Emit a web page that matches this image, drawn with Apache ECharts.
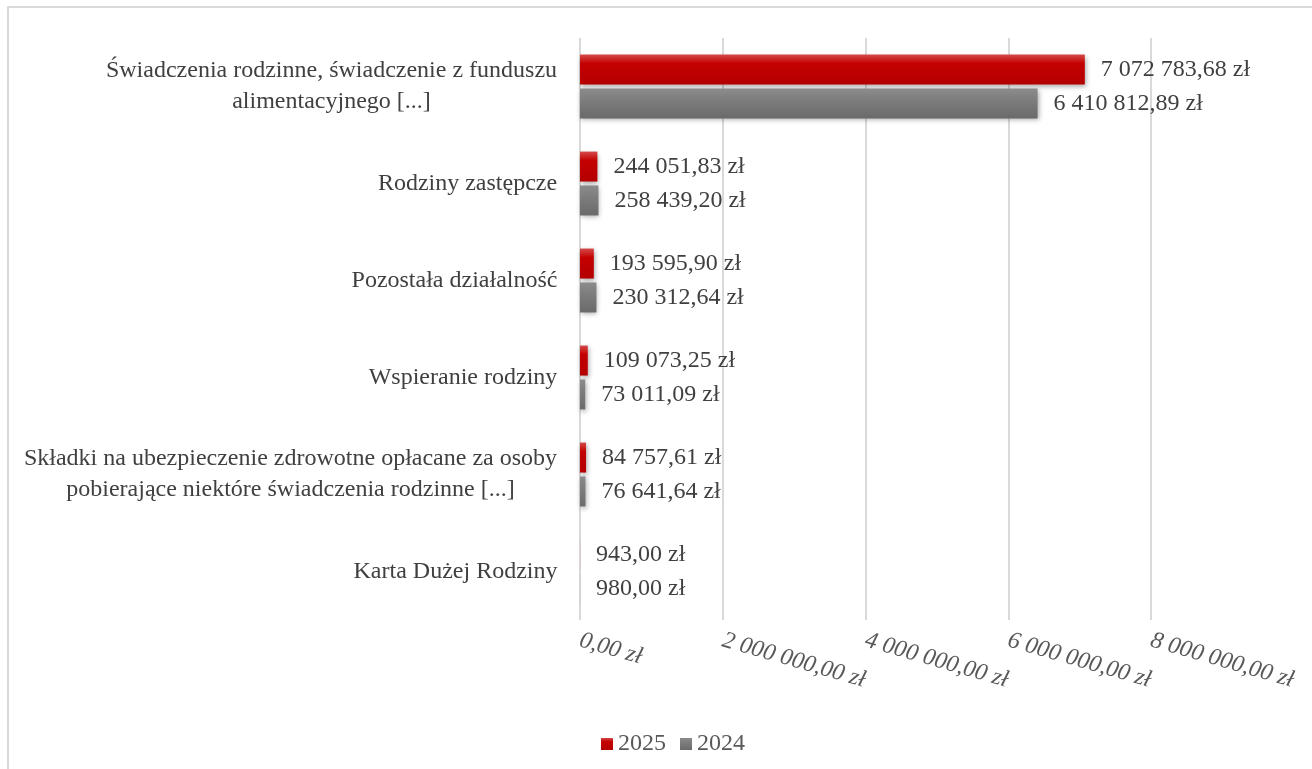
<!DOCTYPE html>
<html>
<head>
<meta charset="utf-8">
<script src="https://cdn.jsdelivr.net/npm/echarts@6/dist/echarts.min.js"></script>
<style>
  html, body { margin: 0; padding: 0; background: #fff; }
  #main { width: 1312px; height: 769px; }
</style>
</head>
<body>
<div id="main"></div>
<script>
// dane
var categories = [
  'Świadczenia rodzinne, świadczenie z funduszu\nalimentacyjnego [...]',
  'Rodziny zastępcze',
  'Pozostała działalność',
  'Wspieranie rodziny',
  'Składki na ubezpieczenie zdrowotne opłacane za osoby\npobierające niektóre świadczenia rodzinne [...]',
  'Karta Dużej Rodziny'
];
var values2025 = [7072783.68, 244051.83, 193595.90, 109073.25, 84757.61, 943.00];
var values2024 = [6410812.89, 258439.20, 230312.64, 73011.09, 76641.64, 980.00];
var xTicks = [0, 2000000, 4000000, 6000000, 8000000];

var FONT = '"Liberation Serif", "Times New Roman", serif';
var FS = 24;

// format polski: 7 072 783,68 zł
function plMoney(v) {
  var parts = Number(v).toFixed(2).split('.');
  var intPart = parts[0].replace(/\B(?=(\d{3})+(?!\d))/g, ' ');
  return intPart + ',' + parts[1] + ' zł';
}

// wiersze etykiet kategorii wycentrowane wzgledem siebie
var ctx = document.createElement('canvas').getContext('2d');
ctx.font = FS + 'px ' + FONT;
var rich = {};
categories.forEach(function (c, i) {
  var w = 0;
  c.split('\n').forEach(function (l) { w = Math.max(w, ctx.measureText(l).width); });
  rich['c' + i] = { width: Math.ceil(w) + 1, align: 'center', fontSize: FS, fontFamily: FONT, color: '#404040', lineHeight: 31 };
});

function grad(top, mid, bottom) {
  return new echarts.graphic.LinearGradient(0, 0, 0, 1, [
    { offset: 0, color: top },
    { offset: 0.3, color: mid },
    { offset: 1, color: bottom }
  ]);
}

var chart = echarts.init(document.getElementById('main'));
var option = {
  animation: false,
  backgroundColor: '#fff',
  textStyle: { fontFamily: FONT },
  graphic: [{
    type: 'rect',
    shape: { x: 8, y: 7, width: 1400, height: 900 },
    style: { fill: 'none', stroke: '#d9d9d9', lineWidth: 2 },
    silent: true
  }],
  legend: {
    left: 596,
    top: 727,
    itemWidth: 12,
    itemHeight: 12,
    itemGap: 14,
    icon: 'rect',
    textStyle: { fontSize: FS, fontFamily: FONT, color: '#595959' },
    data: ['2025', '2024']
  },
  grid: { left: 580, right: 161, top: 38, bottom: 149 },
  xAxis: {
    type: 'value',
    min: 0,
    max: 8000000,
    interval: 2000000,
    axisLine: { show: false },
    axisTick: { show: false },
    splitLine: { lineStyle: { color: '#d9d9d9', width: 2 } },
    axisLabel: {
      rotate: -16,
      margin: 20,
      fontSize: FS,
      fontStyle: 'italic',
      fontFamily: FONT,
      color: '#595959',
      formatter: function (v) { return xTicks.indexOf(v) >= 0 ? plMoney(v) : ''; }
    }
  },
  yAxis: {
    type: 'category',
    inverse: true,
    data: categories,
    axisLine: { show: false },
    axisTick: { show: false },
    axisLabel: {
      margin: 22,
      rich: rich,
      formatter: function (value, idx) {
        return value.split('\n').map(function (l) { return '{c' + idx + '|' + l + '}'; }).join('\n');
      }
    }
  },
  series: [
    {
      name: '2025',
      type: 'bar',
      data: values2025,
      barWidth: 30,
      barGap: '13%',
      itemStyle: {
        color: grad('#d44a4a', '#c40000', '#b40000'),
        shadowColor: 'rgba(0,0,0,0.35)', shadowBlur: 5, shadowOffsetY: 2, shadowOffsetX: 1
      },
      label: {
        show: true, position: 'right', distance: 16,
        fontSize: FS, fontFamily: FONT, color: '#404040',
        formatter: function (p) { return plMoney(p.value); }
      }
    },
    {
      name: '2024',
      type: 'bar',
      data: values2024,
      barWidth: 30,
      barGap: '13%',
      itemStyle: {
        color: grad('#8c8c8c', '#808080', '#6a6a6a'),
        shadowColor: 'rgba(0,0,0,0.35)', shadowBlur: 5, shadowOffsetY: 2, shadowOffsetX: 1
      },
      label: {
        show: true, position: 'right', distance: 16,
        fontSize: FS, fontFamily: FONT, color: '#404040',
        formatter: function (p) { return plMoney(p.value); }
      }
    }
  ]
};
chart.setOption(option);
</script>
</body>
</html>
